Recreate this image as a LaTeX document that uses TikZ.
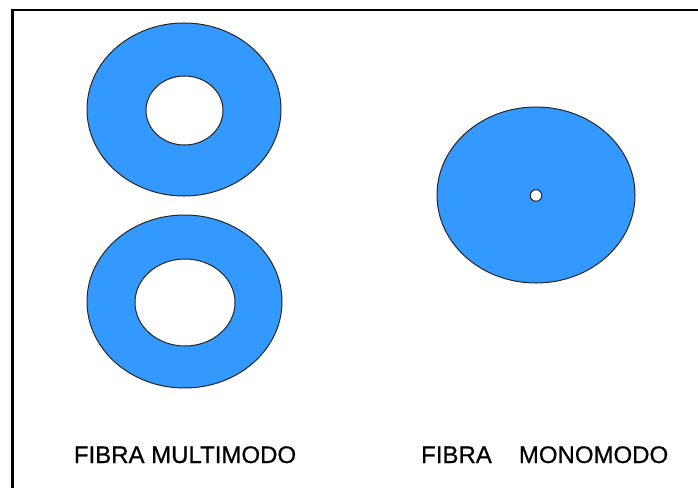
\documentclass[tikz,border=0pt]{standalone}
\usepackage{fontspec}
\setmainfont{Liberation Sans}[FakeBold=0.6]
\definecolor{fiber}{RGB}{51,153,255}
\tikzset{
  fiberfill/.style={fill=fiber, draw=black!85, line width=1pt, even odd rule},
  lbl/.style={inner sep=0pt, anchor=base, font=\fontsize{24pt}{28pt}\selectfont}
}
\begin{document}
\begin{tikzpicture}[x=1pt,y=-1pt]
\useasboundingbox (0,0) rectangle (698,487);
\fill[white] (0,0) rectangle (698,487);
\begin{scope}
\clip (0,0) rectangle (698,487);
\draw[line width=2.8pt] (12.5,10) rectangle (720,510);
\end{scope}
% multimode top
\path[fiberfill] (184,109.5) ellipse [x radius=97, y radius=86.5]
                 (184.5,110.5) ellipse [x radius=38.5, y radius=34.5];
% multimode bottom
\path[fiberfill] (184.5,301.5) ellipse [x radius=97.5, y radius=86.5]
                 (185,302.5) ellipse [x radius=50, y radius=43.5];
% monomode
\path[fiberfill] (536,195) ellipse [x radius=99, y radius=88]
                 (536,195.5) circle [radius=5.8];
\node[lbl] (multi) at (185,463) {FIBRA MULTIMODO};
\node[lbl, anchor=base west] (mono) at (421,463) {FIBRA\hspace{27pt}MONOMODO};
\end{tikzpicture}
\end{document}
